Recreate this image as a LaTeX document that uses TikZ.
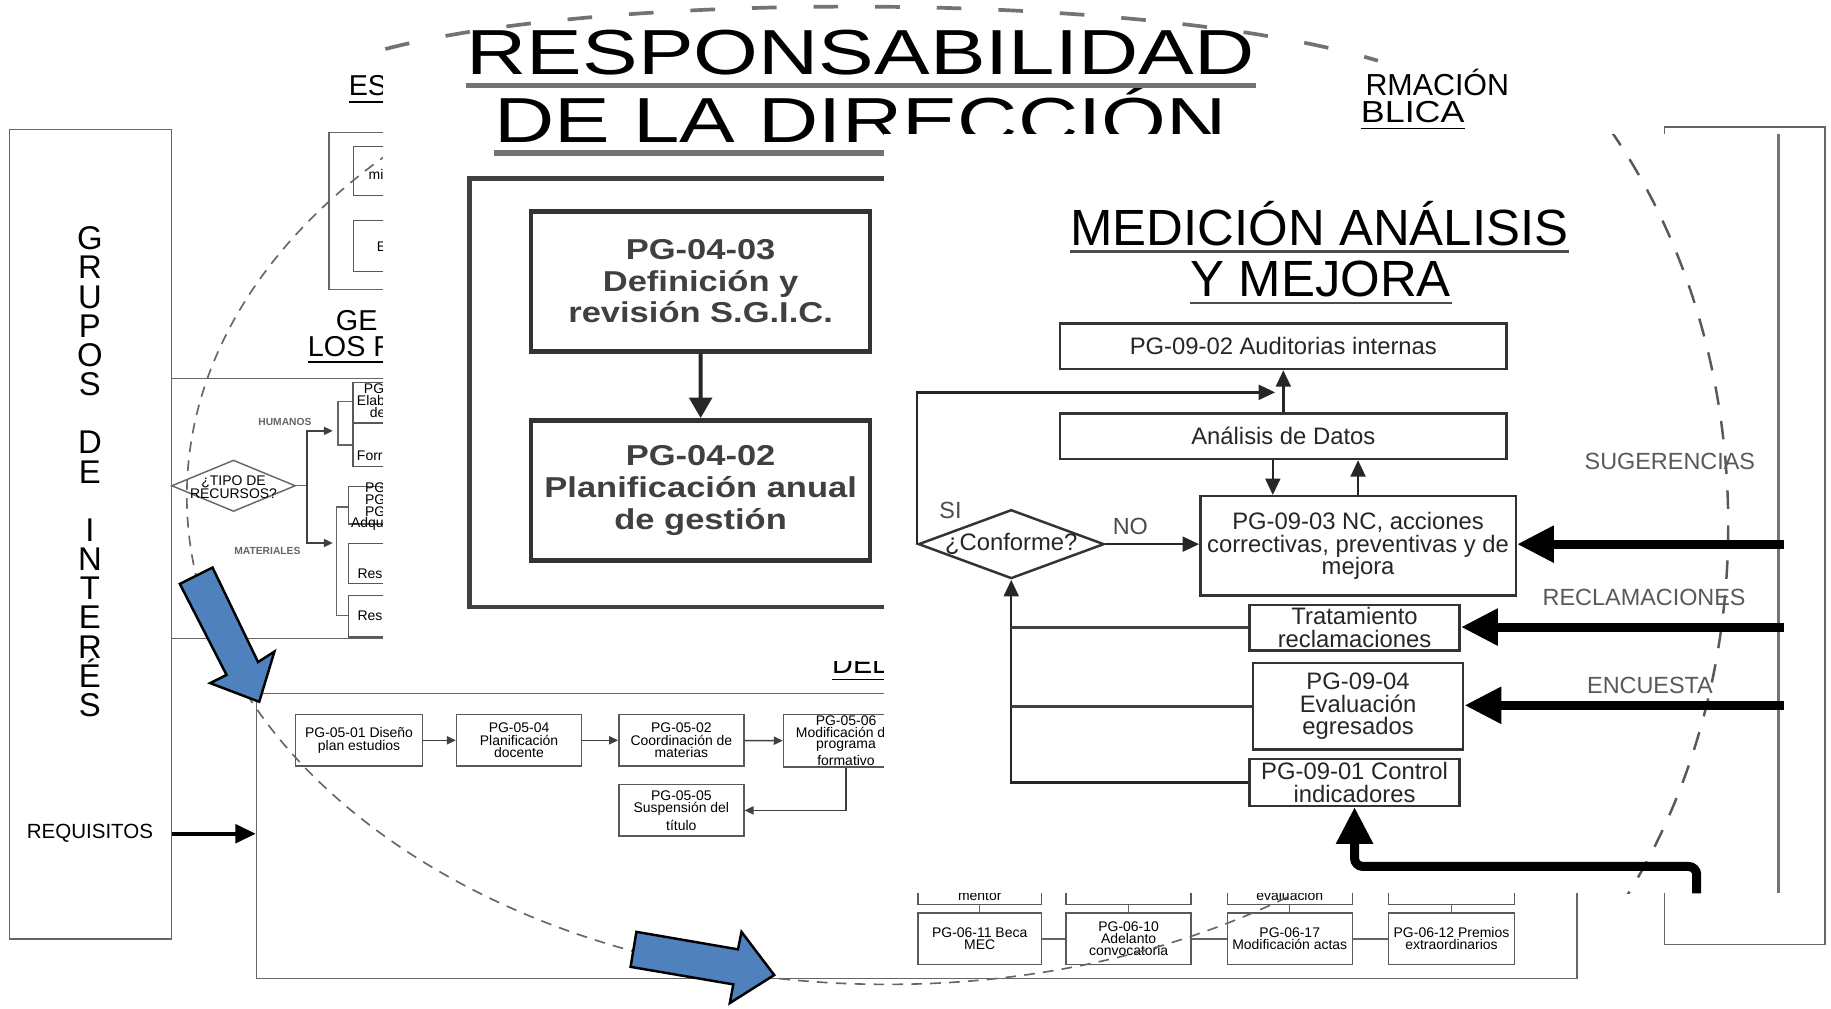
\documentclass[tikz,border=0pt]{standalone}
\usepackage{fontspec}
\setmainfont{Liberation Sans}
\usetikzlibrary{arrows.meta,shapes.geometric}
\definecolor{azulflecha}{RGB}{79,129,189}

\begin{document}
\begin{tikzpicture}[x=0.01cm,y=-0.01cm,
    fondo/.style={draw=black!60,line width=0.35pt},
    cajafondo/.style={draw=black!65,line width=0.35pt,inner sep=0pt,align=center,
      font=\fontsize{3.4}{3.0}\selectfont},
    textofondo/.style={inner sep=0pt,font=\fontsize{3.4}{3.1}\selectfont},
    titulofondo/.style={inner sep=0pt,font=\fontsize{7}{8}\selectfont},
    flechita/.style={-{Triangle[length=2.2pt,width=2pt]},draw=black!75,line width=0.35pt},
    cajadir/.style={draw=black!80,line width=1.1pt,inner sep=0pt,align=center,text=black!75,
      font=\bfseries\fontsize{7}{7.7}\selectfont,xscale=1.2},
    cajamed/.style={draw=black!80,line width=0.6pt,inner sep=0pt,align=center,text=black!85,
      font=\fontsize{5.8}{5.5}\selectfont},
    flechamed/.style={-{Triangle[length=4pt,width=3.6pt]},draw=black!85,line width=0.6pt},
    lineamed/.style={draw=black!75,line width=0.6pt},
    gruesa/.style={-{Triangle[length=9pt,width=8.5pt]},line width=2.2pt},
    etiqueta/.style={inner sep=0pt,text=black!65,font=\fontsize{5.7}{6}\selectfont},
    bloque/.style={fill=azulflecha,draw=black,line width=0.6pt,line join=miter}
  ]
  \useasboundingbox (0,0) rectangle (1568,864);
  \fill[white] (0,0) rectangle (1568,864);

  % ---- fondo: grupos de interes
  \node[fondo,inner sep=0,minimum width=1.39cm,minimum height=6.93cm] (grupos) at (77.5,457.5) {};
  \node[align=center,inner sep=0,font=\fontsize{8}{7.1}\selectfont] (gruposTxt) at (77,404)
    {G\\R\\U\\P\\O\\S\\\mbox{}\\D\\E\\\mbox{}\\I\\N\\T\\E\\R\\É\\S};
  \node[inner sep=0,font=\fontsize{5}{6}\selectfont] (req) at (77,714) {REQUISITOS};
  \node[fondo,inner sep=0,minimum width=11.30cm,minimum height=2.44cm] (proceso) at (785,716) {};
  \draw[-{Triangle[length=5pt,width=4.5pt]},line width=1pt] (grupos.east |- req) -- (proceso.west |- req);
  \node[fondo,inner sep=0,anchor=north west,minimum width=1.37cm,minimum height=7.00cm] (grupos2) at (1425,108) {};

  % estrategia
  \node[titulofondo,anchor=base west] (estrTit) at (298,82) {\underline{ES}};
  \node[fondo,inner sep=0,anchor=north west,minimum width=0.7cm,minimum height=1.34cm] (estr) at (281,113) {};
  \node[cajafondo,anchor=north west,minimum width=0.5cm,minimum height=0.42cm] (estr1) at (302,125) {};
  \node[cajafondo,anchor=north west,minimum width=0.5cm,minimum height=0.44cm] (estr2) at (302,188) {};
  \node[textofondo,anchor=west] (estr1Txt) at (315,149) {mi};
  \node[textofondo,anchor=west] (estr2Txt) at (322,211) {E};

  % gestion de los recursos
  \node[titulofondo,anchor=base west] (gesTit1) at (287,283) {GE};
  \node[titulofondo,anchor=base west] (gesTit2) at (263,305) {\underline{LOS R}};
  \draw[fondo] (147,324) -- (340,324);
  \draw[fondo] (147,547) -- (340,547);
  \node[diamond,fondo,inner sep=0,minimum width=1.06cm,minimum height=0.44cm] (tipo) at (200,416) {};
  \node[textofondo,align=center] (tipoTxt) at (200,417) {¿TIPO DE\\RECURSOS?};
  \coordinate (bif) at (263,416);
  \coordinate (hum) at (285,369);
  \coordinate (mat) at (285,465);
  \draw[fondo] (tipo.east) -- (bif);
  \draw[flechita] (bif) |- (hum);
  \draw[flechita] (bif) |- (mat);
  \node[inner sep=0,text=black!60,font=\bfseries\fontsize{2.5}{3}\selectfont] (humTxt) at (244,361) {HUMANOS};
  \node[inner sep=0,text=black!60,font=\bfseries\fontsize{2.5}{3}\selectfont] (matTxt) at (229,472) {MATERIALES};
  \draw[fondo] (301.5,344) -- (289.5,344) -- (289.5,381) -- (301.5,381);
  \draw[fondo] (298,434) -- (288,434) -- (288,527) -- (298,527);
  \node[cajafondo,anchor=north west,minimum width=0.45cm,minimum height=0.345cm] (rh1) at (301.5,327) {};
  \node[cajafondo,anchor=north west,minimum width=0.45cm,minimum height=0.375cm] (rh2) at (301.5,361.5) {};
  \node[cajafondo,anchor=north west,minimum width=0.5cm,minimum height=0.32cm] (rm1) at (298,416) {};
  \node[cajafondo,anchor=north west,minimum width=0.5cm,minimum height=0.34cm] (rm2) at (298,465) {};
  \node[cajafondo,anchor=north west,minimum width=0.5cm,minimum height=0.355cm] (rm3) at (298,509.5) {};
  \node[textofondo,anchor=west] (rh1a) at (311,333) {PG};
  \node[textofondo,anchor=west] (rh1b) at (305,343) {Elab};
  \node[textofondo,anchor=west] (rh1c) at (316,353) {de};
  \node[textofondo,anchor=west] (rh2a) at (305,390) {Forr};
  \node[textofondo,anchor=west] (rm1a) at (312,418) {PG};
  \node[textofondo,anchor=west] (rm1b) at (312,428) {PG};
  \node[textofondo,anchor=west] (rm1c) at (312,438.5) {PG};
  \node[textofondo,anchor=west] (rm1d) at (300,449) {Adqu};
  \node[textofondo,anchor=west] (rm2a) at (305.5,491.5) {Res};
  \node[textofondo,anchor=west] (rm3a) at (305.5,527) {Resi};

  % informacion publica
  \node[titulofondo,anchor=base east,font=\fontsize{7.4}{8}\selectfont] (infTit1) at (1293,82) {RMACIÓN};
  \node[titulofondo,anchor=base east,font=\fontsize{7.4}{8}\selectfont,xscale=1.18] (infTit2) at (1255,105) {\underline{BLICA}};

  % proceso formativo
  \node[titulofondo,anchor=base west] (delTit) at (712,577) {\underline{DEL}};
  \node[cajafondo,minimum width=1.09cm,minimum height=0.44cm] (p0501) at (307.5,634) {PG-05-01 Diseño\\plan estudios};
  \node[cajafondo,minimum width=1.07cm,minimum height=0.44cm] (p0504) at (444.5,634) {PG-05-04\\Planificación\\docente};
  \node[cajafondo,minimum width=1.07cm,minimum height=0.44cm] (p0502) at (583.5,634) {PG-05-02\\Coordinación de\\materias};
  \node[cajafondo,minimum width=1.07cm,minimum height=0.45cm,font=\fontsize{3.4}{2.8}\selectfont] (p0506) at (724.5,634.5) {PG-05-06\\Modificación d\phantom{el}\\programa\\formativo};
  \node[cajafondo,minimum width=1.07cm,minimum height=0.44cm] (p0505) at (583.5,694) {PG-05-05\\Suspensión del\\título};
  \draw[flechita] (p0501) -- (p0504);
  \draw[flechita] (p0504) -- (p0502);
  \draw[flechita] (p0502) -- (p0506);
  \draw[flechita] (p0506.south) |- (p0505.east);

  % fila inferior
  \node[cajafondo,anchor=south,minimum width=1.06cm,minimum height=0.6cm] (u1) at (839,775) {};
  \node[cajafondo,anchor=south,minimum width=1.07cm,minimum height=0.6cm] (u2) at (966.5,775) {};
  \node[cajafondo,anchor=south,minimum width=1.07cm,minimum height=0.6cm] (u3) at (1104.5,775) {};
  \node[cajafondo,anchor=south,minimum width=1.08cm,minimum height=0.6cm] (u4) at (1243,775) {};
  \node[textofondo] (u1Txt) at (839,767) {mentor};
  \node[textofondo] (u3Txt) at (1104.5,767) {evaluación};
  \node[cajafondo,minimum width=1.06cm,minimum height=0.44cm] (l1) at (839,804) {PG-06-11 Beca\\MEC};
  \node[cajafondo,minimum width=1.07cm,minimum height=0.44cm,font=\fontsize{3.4}{2.9}\selectfont] (l2) at (966.5,804) {PG-06-10\\Adelanto\\convocatoria};
  \node[cajafondo,minimum width=1.07cm,minimum height=0.44cm] (l3) at (1104.5,804) {PG-06-17\\Modificación actas};
  \node[cajafondo,minimum width=1.08cm,minimum height=0.44cm] (l4) at (1243,804) {PG-06-12 Premios\\extraordinarios};
  \draw[fondo] (u1) -- (l1);
  \draw[fondo] (u2) -- (l2);
  \draw[fondo] (u3) -- (l3);
  \draw[fondo] (u4) -- (l4);
  \draw[fondo] (l1) -- (l2);
  \draw[fondo] (l2) -- (l3);
  \draw[fondo] (l3) -- (l4);

  % circulo discontinuo
  \draw[black!60,line width=0.4pt,dash pattern=on 2.6pt off 2pt] (760,425) ellipse [x radius=600,y radius=418];

  % ---- recorte: responsabilidad de la direccion
  \fill[white] (328,0) rectangle (1163,566);
  \draw[dash pattern=on 6pt off 9pt,line width=0.9pt,black!55] (330,42) .. controls (520,-8) and (980,-8) .. (1180,52);
  \node[inner sep=0,anchor=base,font=\fontsize{15.5}{16}\selectfont,xscale=1.31] (resp) at (737,64) {RESPONSABILIDAD};
  \node[inner sep=0,anchor=base,font=\fontsize{15.5}{16}\selectfont,xscale=1.31] (dir) at (737,122) {DE LA DIRECCIÓN};
  \draw[line width=1.3pt,black!55] ([yshift=-2.2pt]resp.south west) -- ([yshift=-2.2pt]resp.south east);
  \draw[line width=1.3pt,black!55] ([yshift=-2.2pt]dir.south west) -- ([yshift=-2.2pt]dir.south east);
  \draw[line width=1.1pt,black!75] (402,153) rectangle (800,520);
  \node[cajadir,minimum width=2.417cm,minimum height=1.2cm] (d0403) at (600,241) {PG-04-03\\Definición y\\revisión S.G.I.C.};
  \node[cajadir,minimum width=2.417cm,minimum height=1.2cm] (d0402) at (600,420) {PG-04-02\\Planificación anual\\de gestión};
  \draw[-{Triangle[length=5pt,width=5.5pt]},line width=1pt,black!85] (d0403) -- (d0402);

  % ---- recorte: medicion, analisis y mejora
  \fill[white] (757,115) rectangle (1535,765);
  \begin{scope}
    \clip (1300,115) rectangle (1535,765);
    \draw[dash pattern=on 4.5pt off 4pt,line width=0.6pt,black!65] (1080,450) ellipse [x radius=400,y radius=510];
  \end{scope}
  \draw[line width=0.8pt,black!55] (1523,115) -- (1523,765);
  \node[inner sep=0,anchor=base,font=\fontsize{12.4}{12}\selectfont] (med1) at (1130,210) {MEDICIÓN ANÁLISIS};
  \node[inner sep=0,anchor=base,font=\fontsize{12.4}{12}\selectfont] (med2) at (1131,254) {Y MEJORA};
  \draw[line width=0.6pt,black!70] ([yshift=-1.2pt]med1.south west) -- ([yshift=-1.2pt]med1.south east);
  \draw[line width=0.6pt,black!70] ([yshift=-1.2pt]med2.south west) -- ([yshift=-1.2pt]med2.south east);

  \node[cajamed,minimum width=3.82cm,minimum height=0.39cm] (aud) at (1099,296.5) {PG-09-02 Auditorias internas};
  \node[cajamed,minimum width=3.82cm,minimum height=0.39cm] (ana) at (1099,373.5) {Análisis de Datos};
  \node[cajamed,minimum width=2.70cm,minimum height=0.85cm] (nc) at (1163,467.5) {PG-09-03 NC, acciones\\correctivas, preventivas y de\\mejora};
  \node[diamond,draw=black!80,line width=0.6pt,inner sep=0,minimum width=1.59cm,minimum height=0.59cm] (conf) at (866,466) {};
  \node[inner sep=0,text=black!85,font=\fontsize{5.8}{6}\selectfont] (confTxt) at (conf) {¿Conforme?};
  \node[cajamed,minimum width=1.80cm,minimum height=0.39cm] (trat) at (1160,537.5) {Tratamiento\\reclamaciones};
  \node[cajamed,minimum width=1.80cm,minimum height=0.74cm] (eval) at (1163,605) {PG-09-04\\Evaluación\\egresados};
  \node[cajamed,minimum width=1.80cm,minimum height=0.40cm] (ctrl) at (1160,670) {PG-09-01 Control\\indicadores};
  \node[etiqueta,text=black!70] (si) at (814,437) {SI};
  \node[etiqueta,text=black!70] (no) at (968,451) {NO};

  \coordinate (retorno) at (1092,336);
  \coordinate (colA) at (1090,0);
  \coordinate (colB) at (1163,0);
  \draw[flechamed] (ana.north) -- (aud.south);
  \draw[flechamed] (conf.west) |- (retorno);
  \draw[flechamed] (ana.south -| colA) -- (nc.north -| colA);
  \draw[flechamed] (nc.north -| colB) -- (ana.south -| colB);
  \draw[flechamed] (conf.east) -- (conf.east -| nc.west);
  \draw[flechamed] (ctrl.west) -| (conf.south);
  \draw[lineamed] (trat.west) -- (trat.west -| conf.south);
  \draw[lineamed] (eval.west) -- (eval.west -| conf.south);

  % entradas de los grupos de interes
  \node[etiqueta] (sugTxt) at (1430,395) {SUGERENCIAS};
  \node[etiqueta] (recTxt) at (1408,512) {RECLAMACIONES};
  \node[etiqueta] (encTxt) at (1413,587) {ENCUESTA};
  \coordinate (sug) at (1528,466);
  \coordinate (rec) at (1528,537);
  \coordinate (enc) at (1528,604);
  \coordinate (indOrig) at (1453,765);
  \draw[gruesa] (sug) -- (sug -| nc.east);
  \draw[gruesa] (rec) -- (rec -| trat.east);
  \draw[gruesa] (enc) -- (enc -| eval.east);
  \draw[gruesa,rounded corners=2pt] (indOrig) -- ++(0,-23) -| (ctrl.south);

  % flechas azules
  \filldraw[bloque] (154,500) -- (182,486) -- (221,567) -- (235,558) -- (222,601) -- (180,585) -- (194,578) -- cycle;
  \filldraw[bloque] (545,798) -- (632,813) -- (635,798) -- (663,835) -- (625,859) -- (628,843) -- (540,828) -- cycle;
\end{tikzpicture}
\end{document}
